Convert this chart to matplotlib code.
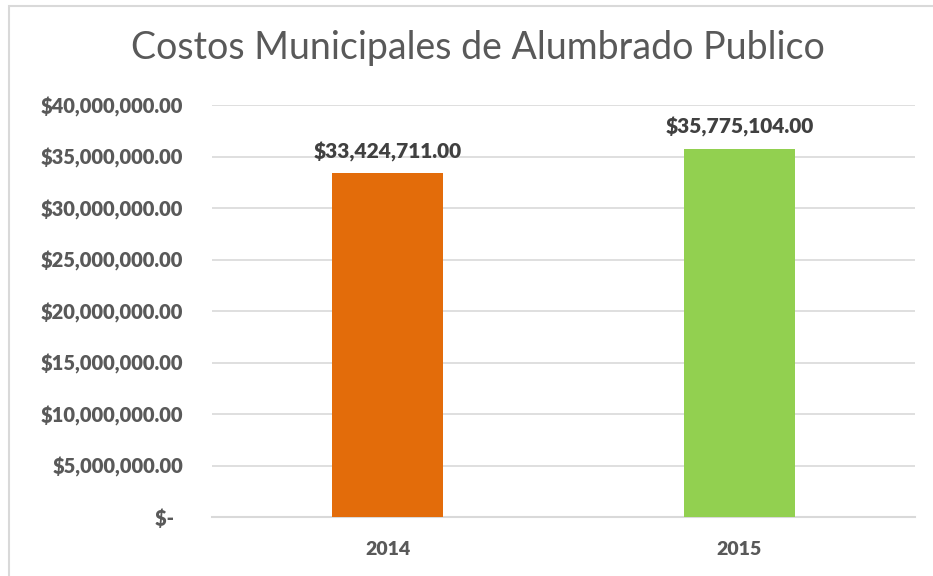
import matplotlib
matplotlib.use("Agg")
import matplotlib.pyplot as plt
from matplotlib.patches import Rectangle
from matplotlib.ticker import FuncFormatter

# ── Data ───────────────────────────────────────────────────────────────────────
YEARS  = ["2014", "2015"]
COSTS  = [33424711.00, 35775104.00]
COLORS = ["#E36C0A", "#92D050"]

TITLE = "Costos Municipales de Alumbrado Publico"
TEXT_GREY = "#595959"

# ── Plot ───────────────────────────────────────────────────────────────────────
fig = plt.figure(figsize=(9.33, 5.76), dpi=100)
ax = fig.add_axes([212 / 933, 1 - 517 / 576, (915 - 212) / 933, (517 - 105) / 576])

x = range(len(YEARS))
ax.bar(x, COSTS, width=0.316, color=COLORS, zorder=3)

for xi, v in zip(x, COSTS):
    ax.annotate(f"${v:,.2f}", (xi, v), xytext=(0, 8), textcoords="offset points",
                ha="center", va="bottom", fontsize=15, fontweight="heavy",
                family="Lato", color="#404040")

ax.set_xlim(-0.5, 1.5)
ax.set_ylim(0, 40_000_000)
ax.set_yticks(range(0, 40_000_001, 5_000_000))


def money(v, pos):
    return "$-  " if v == 0 else f"${v:,.2f}"


ax.yaxis.set_major_formatter(FuncFormatter(money))
ax.set_xticks(list(x))
ax.set_xticklabels(YEARS)

for lab in ax.get_yticklabels():
    lab.set_fontsize(14.5)
for lab in ax.get_xticklabels():
    lab.set_fontsize(14)
for lab in ax.get_xticklabels() + ax.get_yticklabels():
    lab.set_family("Lato")
    lab.set_fontweight("heavy")
    lab.set_color(TEXT_GREY)

ax.tick_params(axis="y", length=0, pad=21)
ax.tick_params(axis="x", length=0, pad=17)
ax.grid(axis="y", color="#D9D9D9", linewidth=1.2, zorder=0)
for side in ["top", "right", "left"]:
    ax.spines[side].set_visible(False)
ax.spines["bottom"].set_color("#D9D9D9")
ax.spines["bottom"].set_linewidth(1.5)

fig.text(478 / 933, 1 - 48 / 576, TITLE, ha="center", va="center",
         fontsize=27, family="Lato", fontweight="normal", color=TEXT_GREY)

# chart frame
fig.patches.append(Rectangle((8.5 / 933, -0.1), 1.2, 1 - 5.5 / 576 + 0.1,
                             transform=fig.transFigure, fill=False,
                             edgecolor="#D9D9D9", linewidth=1.5))

fig.savefig("out.png", dpi=100)
